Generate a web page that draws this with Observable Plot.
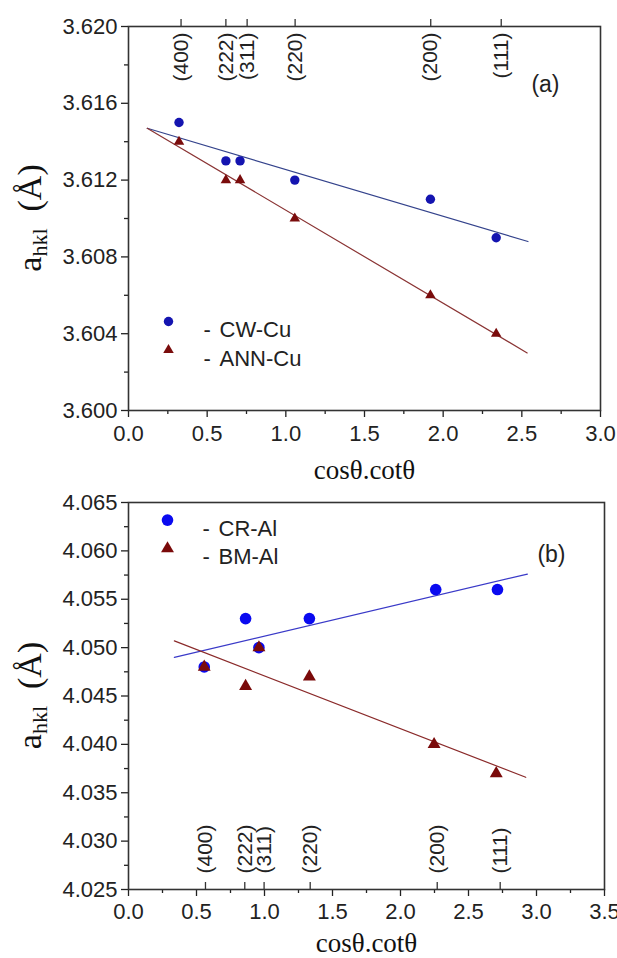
<!DOCTYPE html>
<html><head><meta charset="utf-8">
<script src="https://cdn.jsdelivr.net/npm/d3@7"></script>
<script src="https://cdn.jsdelivr.net/npm/@observablehq/plot@0.6"></script>
<style>body{margin:0;background:#fff} svg{display:block}</style>
</head><body><div id="chart"></div>
<script>
// ---- shared
const hklLabels = ["(400)", "(222)", "(311)", "(220)", "(200)", "(111)"];

// ---- panel (a): Cu
const cuX     = [0.321, 0.619, 0.709, 1.057, 1.919, 2.337];
const cwCu    = [3.615, 3.613, 3.613, 3.612, 3.611, 3.609];
const annCu   = [3.614, 3.612, 3.612, 3.610, 3.606, 3.604];
const cuTickX = [0.334, 0.619, 0.754, 1.059, 1.921, 2.369];
const cwCuFitX  = [0.119, 2.539], cwCuFitY  = [3.6147, 3.6088];
const annCuFitX = [0.119, 2.534], annCuFitY = [3.6147, 3.6030];
const cuYMajor = [3.600, 3.604, 3.608, 3.612, 3.616, 3.620];
const cuYMinor = [3.602, 3.606, 3.610, 3.614, 3.618];
const cuXMajor = [0, 0.5, 1.0, 1.5, 2.0, 2.5, 3.0];
const cuXMinor = [0.25, 0.75, 1.25, 1.75, 2.25, 2.75];

// ---- panel (b): Al
const crAlX   = [0.557, 0.861, 0.959, 1.330, 2.259, 2.713];
const crAl    = [4.048, 4.053, 4.050, 4.053, 4.056, 4.056];
const bmAlX   = [0.557, 0.861, 0.959, 1.330, 2.247, 2.704];
const bmAl    = [4.048, 4.046, 4.050, 4.047, 4.040, 4.037];
const alTickX = [0.566, 0.855, 0.997, 1.336, 2.270, 2.733];
const crAlFitX = [0.337, 2.933], crAlFitY = [4.0490, 4.0576];
const bmAlFitX = [0.337, 2.921], bmAlFitY = [4.0507, 4.0366];
const alYMajor = [4.025, 4.030, 4.035, 4.040, 4.045, 4.050, 4.055, 4.060, 4.065];
const alYMinor = [4.0275, 4.0325, 4.0375, 4.0425, 4.0475, 4.0525, 4.0575, 4.0625];
const alXMajor = [0, 0.5, 1.0, 1.5, 2.0, 2.5, 3.0, 3.5];
const alXMinor = [0.25, 0.75, 1.25, 1.75, 2.25, 2.75, 3.25];

const SANS = "'Liberation Sans', Arial, sans-serif";
const SERIF = "'Liberation Serif', 'Times New Roman', serif";
const pts = (xs, ys) => xs.map((x, i) => ({x, y: ys[i]}));
const ROW = 28.5;

function panel(c) {
  const frameH = c.height - c.marginTop - c.marginBottom;
  const svg = Plot.plot({
    width: 617, height: c.height,
    marginLeft: 128, marginRight: c.marginRight, marginTop: c.marginTop, marginBottom: c.marginBottom,
    style: {fontFamily: SANS, fontSize: "22px", color: "#222", background: "#fff", overflow: "visible"},
    x: {domain: c.xDomain},
    y: {domain: c.yDomain},
    marks: [
      Plot.axisY(c.yMajor, {tickSize: 7, tickPadding: 4, tickFormat: d3.format(".3f"), label: null, fontSize: 22, strokeWidth: 1.3}),
      Plot.axisY(c.yMinor, {tickSize: 4, tickFormat: () => "", label: null, strokeWidth: 1.3}),
      Plot.axisX(c.xMajor, {tickSize: 7, tickPadding: c.xPad, tickFormat: d3.format(".1f"), label: null, fontSize: 22, strokeWidth: 1.3}),
      Plot.axisX(c.xMinor, {tickSize: 4, tickFormat: () => "", label: null, strokeWidth: 1.3}),
      Plot.frame({stroke: "#333", strokeWidth: 1.6}),
      // hkl reflection markers
      Plot.tickX(c.tickX, c.top
        ? {x: d => d, insetTop: -7, insetBottom: frameH, stroke: "#333", strokeWidth: 1.3}
        : {x: d => d, insetTop: frameH - 7, insetBottom: 0, stroke: "#333", strokeWidth: 1.3}),
      Plot.text(hklLabels, c.top
        ? {x: (d, i) => c.tickX[i], text: d => d, frameAnchor: "top", dy: 6, rotate: -90, textAnchor: "end", lineAnchor: "middle", fontSize: 21, fill: "#222"}
        : {x: (d, i) => c.tickX[i], text: d => d, frameAnchor: "bottom", dy: -16, rotate: -90, textAnchor: "start", lineAnchor: "middle", fontSize: 21, fill: "#222"}),
      // fit lines
      Plot.line(pts(c.fit1X, c.fit1Y), {x: "x", y: "y", stroke: c.line1, strokeWidth: 1.2}),
      Plot.line(pts(c.fit2X, c.fit2Y), {x: "x", y: "y", stroke: c.line2, strokeWidth: 1.2}),
      // data
      Plot.dot(pts(c.s1X, c.s1Y), {x: "x", y: "y", r: c.rc, fill: c.col1, symbol: "circle"}),
      Plot.dot(pts(c.s2X, c.s2Y), {x: "x", y: "y", r: c.rt, fill: c.col2, symbol: "triangle"}),
      // legend
      Plot.dot([c.names[0]], {frameAnchor: "top-left", dx: c.legDx, dy: c.legDy, r: c.rc, fill: c.col1, symbol: "circle"}),
      Plot.dot([c.names[1]], {frameAnchor: "top-left", dx: c.legDx, dy: c.legDy + ROW, r: c.rt, fill: c.col2, symbol: "triangle"}),
      Plot.text(["-"], {frameAnchor: "top-left", dx: c.legDx + 35, dy: c.legDy, fontSize: 22, fill: "#222"}),
      Plot.text(["-"], {frameAnchor: "top-left", dx: c.legDx + 35, dy: c.legDy + ROW, fontSize: 22, fill: "#222"}),
      Plot.text([c.names[0]], {frameAnchor: "top-left", dx: c.legDx + 51, dy: c.legDy, textAnchor: "start", fontSize: 22, fill: "#222"}),
      Plot.text([c.names[1]], {frameAnchor: "top-left", dx: c.legDx + 51, dy: c.legDy + ROW, textAnchor: "start", fontSize: 22, fill: "#222"}),
      // panel tag
      Plot.text([c.tag], {frameAnchor: "top-right", dx: c.tagDx, dy: c.tagDy, fontSize: 23, fill: "#222"}),
      // x title
      Plot.text(["cosθ.cotθ"], {frameAnchor: "bottom", dy: c.titleDy, lineAnchor: "bottom", fontFamily: SERIF, fontSize: 27, fill: "#111"})
    ]
  });
  const s = d3.select(svg);
  // y-axis title with subscript
  const t = s.append("text")
    .attr("transform", `translate(41,${c.marginTop + frameH / 2}) rotate(-90)`)
    .attr("text-anchor", "middle")
    .attr("font-family", SERIF).attr("font-size", 34).attr("fill", "#111");
  t.append("tspan").text("a");
  t.append("tspan").attr("font-size", 22).attr("dy", "0.28em").text("hkl");
  t.append("tspan").attr("dy", "-0.18em").text("\u00a0\u00a0(Å)");
  return svg;
}

const aCfg = {
  height: 486, marginTop: 26, marginBottom: 76, marginRight: 17, xPad: 8, top: true,
  xDomain: [0, 3], yDomain: [3.600, 3.620],
  yMajor: cuYMajor, yMinor: cuYMinor, xMajor: cuXMajor, xMinor: cuXMinor,
  tickX: cuTickX,
  fit1X: cwCuFitX, fit1Y: cwCuFitY, fit2X: annCuFitX, fit2Y: annCuFitY,
  line1: "#34438c", line2: "#8a3434",
  s1X: cuX, s1Y: cwCu, s2X: cuX, s2Y: annCu,
  col1: "#1414b0", col2: "#7a0c0c", rc: 4.7, rt: 3.9,
  names: ["CW-Cu", "ANN-Cu"], legDx: 40, legDy: 295,
  tag: "(a)", tagDx: -41, tagDy: 49, titleDy: 68
};
const bCfg = {
  height: 472, marginTop: 16, marginBottom: 69, marginRight: 13, xPad: 7, top: false,
  xDomain: [0, 3.5], yDomain: [4.025, 4.065],
  yMajor: alYMajor, yMinor: alYMinor, xMajor: alXMajor, xMinor: alXMinor,
  tickX: alTickX,
  fit1X: crAlFitX, fit1Y: crAlFitY, fit2X: bmAlFitX, fit2Y: bmAlFitY,
  line1: "#3a3ac8", line2: "#8a2a2a",
  s1X: crAlX, s1Y: crAl, s2X: bmAlX, s2Y: bmAl,
  col1: "#0a0af0", col2: "#7a0a0a", rc: 5.8, rt: 4.8,
  names: ["CR-Al", "BM-Al"], legDx: 39, legDy: 17.6,
  tag: "(b)", tagDx: -39, tagDy: 43, titleDy: 62
};

const root = document.getElementById("chart");
root.appendChild(panel(aCfg));
root.appendChild(panel(bCfg));
</script>
</body></html>
